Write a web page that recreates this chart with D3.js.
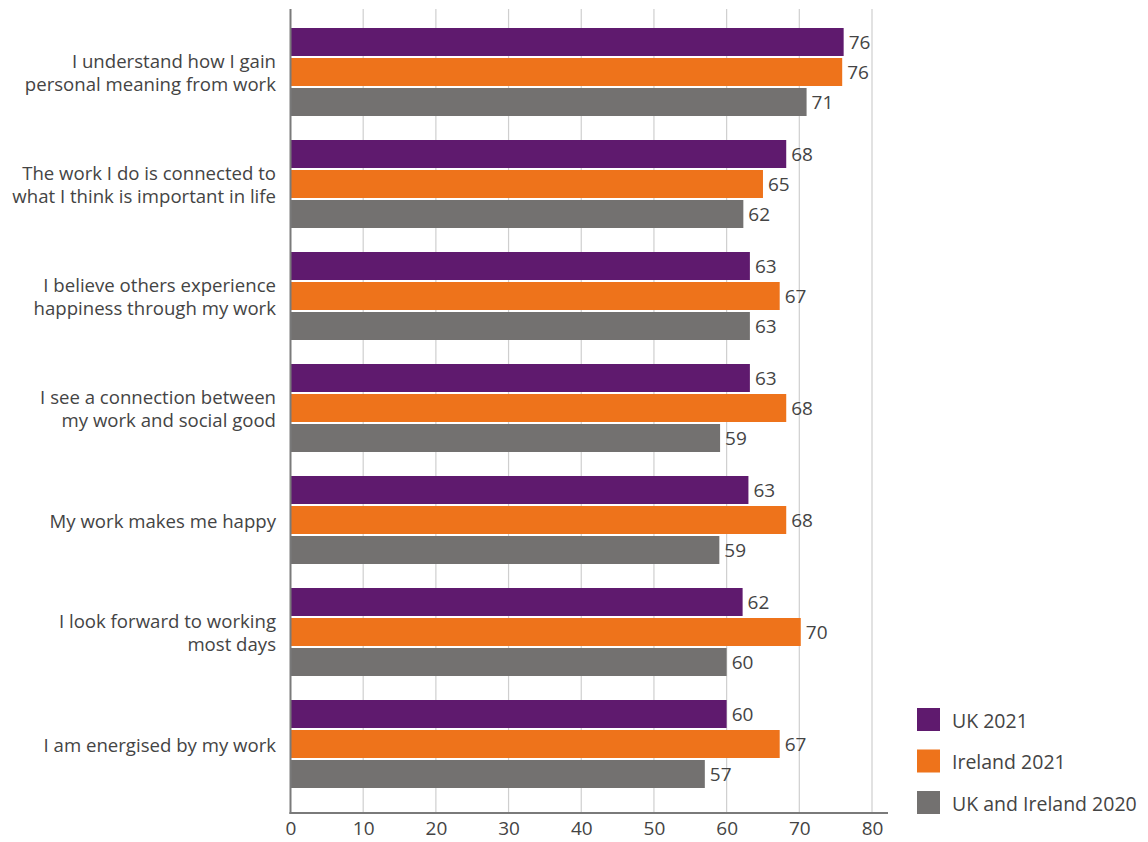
<!DOCTYPE html>
<html>
<head>
<meta charset="utf-8">
<script src="https://cdn.jsdelivr.net/npm/d3@7"></script>
<style>
  html, body { margin: 0; padding: 0; background: #ffffff; }
  svg { display: block; }
  text { font-family: "Open Sans", "Lato", sans-serif; fill: #444444; }
</style>
</head>
<body>
<svg id="chart" width="1148" height="842"></svg>
<script>
const categories = [
  ["I understand how I gain", "personal meaning from work"],
  ["The work I do is connected to", "what I think is important in life"],
  ["I believe others experience", "happiness through my work"],
  ["I see a connection between", "my work and social good"],
  ["My work makes me happy"],
  ["I look forward to working", "most days"],
  ["I am energised by my work"]
];
const seriesNames = ["UK 2021", "Ireland 2021", "UK and Ireland 2020"];
const uk2021 = [76.1, 68.2, 63.2, 63.2, 63.0, 62.2, 60.0];
const ireland2021 = [75.9, 65.0, 67.3, 68.2, 68.2, 70.2, 67.3];
const ukIreland2020 = [71.0, 62.3, 63.2, 59.1, 59.0, 60.0, 57.0];
const xTicks = [0, 10, 20, 30, 40, 50, 60, 70, 80];
const colors = ["#5f1a6e", "#ee731b", "#737170"];

const seriesValues = [uk2021, ireland2021, ukIreland2020];
const svg = d3.select("#chart");

const x = d3.scaleLinear().domain([0, 80]).range([290.5, 872]);
const y = d3.scaleBand().domain(d3.range(categories.length)).range([16, 800])
  .paddingInner(24 / 112).paddingOuter(12 / 112);
const ySub = d3.scaleBand().domain(d3.range(seriesNames.length)).range([0, y.bandwidth()])
  .paddingInner(2 / 30).paddingOuter(0);

const axisY = 813;
const topY = 9;

// gridlines
svg.append("g").selectAll("line").data(xTicks.slice(1)).join("line")
  .attr("x1", d => x(d)).attr("x2", d => x(d))
  .attr("y1", topY).attr("y2", axisY)
  .attr("stroke", "#cfcfcf").attr("stroke-width", 1.2);

// bars
const groups = svg.append("g").selectAll("g").data(categories).join("g")
  .attr("transform", (d, i) => `translate(0,${y(i)})`);

groups.each(function(d, i) {
  const g = d3.select(this);
  seriesValues.forEach((vals, s) => {
    g.append("rect")
      .attr("x", x(0))
      .attr("y", ySub(s))
      .attr("width", x(vals[i]) - x(0))
      .attr("height", ySub.bandwidth())
      .attr("fill", colors[s]);
    g.append("text")
      .attr("x", x(vals[i]) + 5)
      .attr("y", ySub(s) + ySub.bandwidth() / 2)
      .attr("dominant-baseline", "central")
      .attr("font-size", 19)
      .text(d3.format(".0f")(vals[i]));
  });
  // category label
  const lines = d;
  const cy = y.bandwidth() / 2;
  const lh = 23;
  lines.forEach((ln, k) => {
    g.append("text")
      .attr("x", 276)
      .attr("y", cy + (k - (lines.length - 1) / 2) * lh)
      .attr("dominant-baseline", "central")
      .attr("text-anchor", "end")
      .attr("font-size", 18.6)
      .text(ln);
  });
});

// axes lines
svg.append("line").attr("x1", x(0)).attr("x2", x(0)).attr("y1", topY).attr("y2", axisY + 1)
  .attr("stroke", "#7a7a7a").attr("stroke-width", 2);
svg.append("line").attr("x1", x(0) - 1).attr("x2", 888).attr("y1", axisY).attr("y2", axisY)
  .attr("stroke", "#7a7a7a").attr("stroke-width", 2);

// x tick labels
const xAxis = d3.axisBottom(x).tickValues(xTicks).tickSize(0).tickPadding(0);
const ax = svg.append("g").attr("transform", `translate(0,${axisY})`).call(xAxis);
ax.select(".domain").remove();
ax.selectAll("text")
  .attr("y", 15)
  .attr("dy", null)
  .attr("dominant-baseline", "central")
  .attr("font-size", 19)
  .attr("fill", "#444444")
  .style("font-family", '"Open Sans", "Lato", sans-serif');

// legend
const legend = svg.append("g").attr("transform", "translate(917,708)");
seriesNames.forEach((name, i) => {
  const lg = legend.append("g").attr("transform", `translate(0,${i * 41.5})`);
  lg.append("rect").attr("width", 23).attr("height", 23).attr("fill", colors[i]);
  lg.append("text").attr("x", 35).attr("y", 12).attr("dominant-baseline", "central")
    .attr("font-size", 19.5).text(name);
});
</script>
</body>
</html>
